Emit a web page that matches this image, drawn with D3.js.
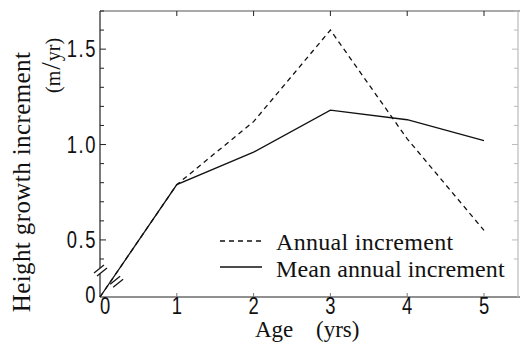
<!DOCTYPE html>
<html>
<head>
<meta charset="utf-8">
<script src="https://cdn.jsdelivr.net/npm/d3@7"></script>
<style>
  html, body { margin: 0; padding: 0; background: #fff; }
  svg { display: block; }
  .num { font-family: 'Liberation Sans', Arial, sans-serif; font-size: 23px; fill: #111; }
  .ser { font-family: 'Liberation Serif', 'DejaVu Serif', serif; fill: #111; }
</style>
</head>
<body>
<svg id="chart" width="520" height="343"></svg>
<script>
// Age in years
const ages = [0, 1, 2, 3, 4, 5];
// Height growth increment (m/yr)
const annualIncrement = [0, 0.79, 1.12, 1.60, 1.03, 0.55];
const meanAnnualIncrement = [0, 0.79, 0.96, 1.18, 1.13, 1.02];
// Axis ticks
const xTicks = [0, 1, 2, 3, 4, 5];
const yMajorTicks = [0, 0.5, 1.0, 1.5];
const yMajorLabels = ["0", "0.5", "1.0", "1.5"];
const yMinorTicks = [0.4, 0.6, 0.7, 0.8, 0.9, 1.1, 1.2, 1.3, 1.4, 1.6, 1.7];
const seriesNames = ["Annual increment", "Mean annual increment"];

const svg = d3.select("#chart");
const plotLeft = 100, plotRight = 518, plotTop = 11, plotBottom = 297;
const ink = "#111";
const narrow = 0.8; // horizontal squeeze for the condensed numerals

const x = d3.scaleLinear().domain([0, 5]).range([plotLeft, 484]);
// broken axis: the 0–0.4 stretch is compressed below the break
const y = d3.scaleLinear().domain([0, 0.4, 1.7]).range([plotBottom, 259, plotTop]);

// frame
const frame = svg.append("g").attr("stroke", "#222").attr("stroke-width", 1.2).attr("fill", "none");
frame.append("line").attr("x1", plotLeft).attr("x2", 520).attr("y1", plotBottom).attr("y2", plotBottom);
frame.append("line").attr("x1", plotLeft).attr("x2", 520).attr("y1", plotTop).attr("y2", plotTop).attr("stroke", "#555");
frame.append("line").attr("x1", plotLeft).attr("x2", plotLeft).attr("y1", plotBottom).attr("y2", plotTop);
frame.append("line").attr("x1", plotRight).attr("x2", plotRight).attr("y1", plotBottom).attr("y2", plotTop).attr("stroke", "#bbb");

// y ticks (inward, both sides)
const tickG = svg.append("g").attr("stroke", "#222").attr("stroke-width", 1);
yMajorTicks.filter(d => d > 0).forEach(d => {
  tickG.append("line").attr("x1", plotLeft).attr("x2", plotLeft + 6).attr("y1", y(d)).attr("y2", y(d));
  tickG.append("line").attr("x1", plotRight).attr("x2", plotRight - 6).attr("y1", y(d)).attr("y2", y(d)).attr("stroke", "#bbb");
});
yMinorTicks.forEach(d => {
  tickG.append("line").attr("x1", plotLeft).attr("x2", plotLeft + 4).attr("y1", y(d)).attr("y2", y(d));
  tickG.append("line").attr("x1", plotRight).attr("x2", plotRight - 4).attr("y1", y(d)).attr("y2", y(d)).attr("stroke", "#bbb");
});
// x ticks (inward, bottom and top)
xTicks.filter(d => d > 0).forEach(d => {
  tickG.append("line").attr("x1", x(d)).attr("x2", x(d)).attr("y1", plotBottom).attr("y2", plotBottom - 4).attr("stroke", "#777");
  tickG.append("line").attr("x1", x(d)).attr("x2", x(d)).attr("y1", plotTop).attr("y2", plotTop + 5);
});

// tick labels (condensed by a horizontal scale)
svg.append("g").selectAll("text").data(yMajorTicks).join("text")
  .attr("class", "num")
  .attr("transform", d => `translate(97,${y(d) + (d === 0 ? 6 : 8)}) scale(${narrow},1)`)
  .attr("text-anchor", "end")
  .attr("letter-spacing", 2)
  .text((d, i) => yMajorLabels[i]);
svg.append("g").selectAll("text").data(xTicks).join("text")
  .attr("class", "num")
  .attr("transform", d => `translate(${x(d) + (d === 0 ? 5 : 0)},314) scale(${narrow},1)`)
  .attr("text-anchor", "middle")
  .text(d => d);

// series lines
const line = d3.line().x((d, i) => x(ages[i])).y(d => y(d));
svg.append("path").datum(annualIncrement)
  .attr("d", line).attr("fill", "none").attr("stroke", ink)
  .attr("stroke-width", 1.3).attr("stroke-dasharray", "5,4");
svg.append("path").datum(meanAnnualIncrement)
  .attr("d", line).attr("fill", "none").attr("stroke", ink)
  .attr("stroke-width", 1.3);

// break marks: on the y axis and on the first line segment
function breakMark(cx, cy) {
  const g = svg.append("g").attr("transform", `translate(${cx},${cy})`);
  g.append("polygon").attr("points", "-6,3 4,-5 7,-2 -3,6").attr("fill", "#fff");
  g.append("line").attr("x1", -6).attr("y1", 3).attr("x2", 4).attr("y2", -5).attr("stroke", ink).attr("stroke-width", 1.2);
  g.append("line").attr("x1", -3).attr("y1", 6).attr("x2", 7).attr("y2", -2).attr("stroke", ink).attr("stroke-width", 1.2);
}
breakMark(plotLeft, 270);
const tb = 0.21;
breakMark(x(ages[1] * tb), y(meanAnnualIncrement[1] * tb));

// legend
const legend = svg.append("g");
legend.append("line").attr("x1", 220).attr("x2", 262).attr("y1", 241).attr("y2", 241)
  .attr("stroke", ink).attr("stroke-width", 1.3).attr("stroke-dasharray", "5,4");
legend.append("line").attr("x1", 220).attr("x2", 262).attr("y1", 267).attr("y2", 267)
  .attr("stroke", ink).attr("stroke-width", 1.3);
legend.append("text").attr("class", "ser").attr("x", 276).attr("y", 250)
  .attr("font-size", 24).attr("letter-spacing", 0.3).text(seriesNames[0]);
legend.append("text").attr("class", "ser").attr("x", 276).attr("y", 277)
  .attr("font-size", 24).attr("letter-spacing", 0.1).text(seriesNames[1]);

// axis titles
svg.append("text").attr("class", "ser")
  .attr("transform", "translate(30,182) rotate(-90)")
  .attr("text-anchor", "middle").attr("font-size", 25).attr("letter-spacing", 0.4)
  .text("Height growth increment");
const unit = svg.append("text").attr("class", "ser")
  .attr("transform", "translate(60,93) rotate(-90)")
  .attr("text-anchor", "start").attr("font-size", 20);
unit.append("tspan").text("(m");
unit.append("tspan").attr("font-size", 27).attr("dx", 1).text("/");
unit.append("tspan").attr("dx", 1).text("yr)");

const xt = svg.append("text").attr("class", "ser").attr("x", 255).attr("y", 337).attr("font-size", 23);
xt.append("tspan").text("Age");
xt.append("tspan").attr("x", 316).text("(yrs)");
</script>
</body>
</html>
